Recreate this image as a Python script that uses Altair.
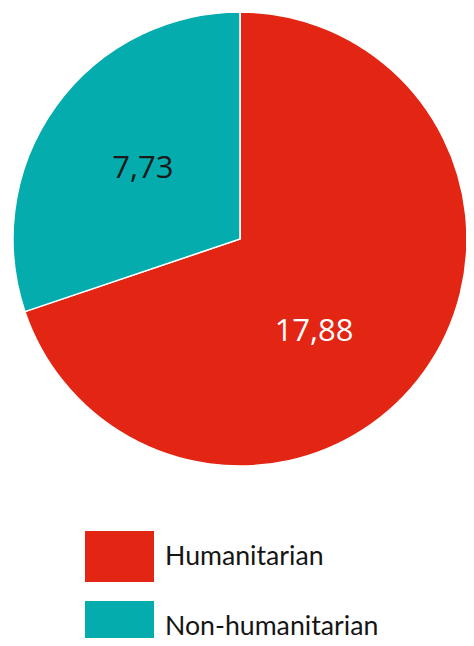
import altair as alt
import pandas as pd

categories = ["Humanitarian", "Non-humanitarian"]
values = [17.88, 7.73]
labels = ["17,88", "7,73"]
order = [0, 1]
colors = ["#E32514", "#04ACAD"]

total = sum(values)

df = pd.DataFrame({"category": categories, "value": values, "label": labels, "order": order})

theta_scale = alt.Scale(domain=[0, total], range=[0, 6.283185307179586])

base = alt.Chart(df).transform_window(
    end="sum(value)", sort=[alt.SortField("order")], frame=[None, 0]
).transform_calculate(
    start="datum.end - datum.value",
    mid="datum.end - datum.value / 2",
)

pie = base.mark_arc(stroke="white", strokeWidth=1.5, outerRadius=227).encode(
    theta=alt.Theta("start:Q", scale=theta_scale),
    theta2="end:Q",
    color=alt.Color(
        "category:N",
        scale=alt.Scale(domain=categories, range=colors),
        legend=alt.Legend(
            orient="none", legendX=71, legendY=514, title=None, direction="vertical",
            symbolType="M-1,-0.739L1,-0.739L1,0.739L-1,0.739Z", symbolSize=4761,
            symbolStrokeWidth=0, symbolOpacity=1,
            labelFont="Lato", labelFontSize=26.7, labelColor="#151515",
            labelOffset=11, rowPadding=10, padding=0, labelLimit=400,
        ),
    ),
)

text_h = base.transform_filter(alt.datum.category == "Humanitarian").mark_text(
    radius=122, font="Open Sans", fontSize=31, color="#FFFFFF", dx=-25, dy=22,
    align="center", baseline="middle",
).encode(theta=alt.Theta("mid:Q", scale=theta_scale), text="label:N")

text_n = base.transform_filter(alt.datum.category == "Non-humanitarian").mark_text(
    radius=122, font="Open Sans", fontSize=31, color="#1A1A1A", dx=2, dy=1,
    align="center", baseline="middle",
).encode(theta=alt.Theta("mid:Q", scale=theta_scale), text="label:N")

chart = alt.layer(pie, text_h, text_n).properties(
    width=452, height=462,
    padding={"left": 6, "top": 0, "right": 0, "bottom": 168},
    autosize=alt.AutoSizeParams(type="none"),
).configure_view(stroke=None)

chart.save("out.html", embed_options={"renderer": "svg", "actions": False})
